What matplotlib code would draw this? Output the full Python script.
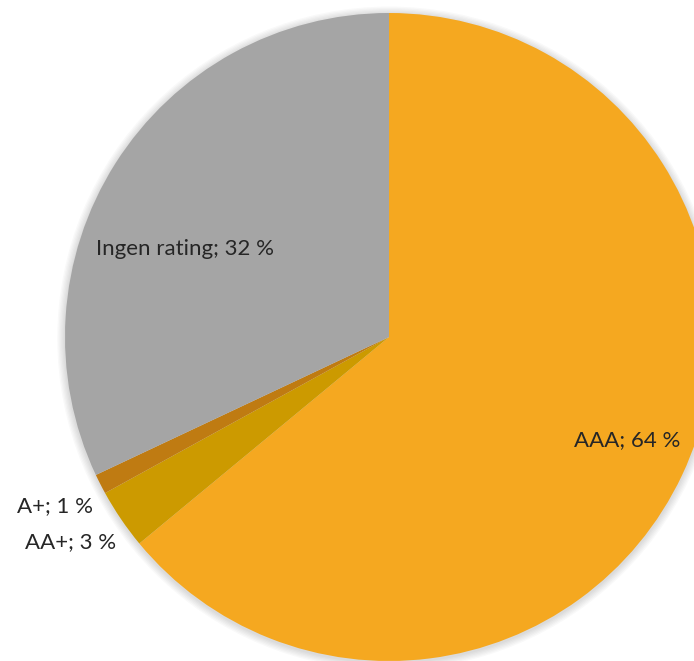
import matplotlib.pyplot as plt
from matplotlib.patches import Circle

# rating split of the portfolio
ratings = ['AAA', 'AA+', 'A+', 'Ingen rating']
shares = [64, 3, 1, 32]
colors = ['#F5A820', '#CC9A00', '#BF7B12', '#A5A5A5']

# label anchors (data units, pie radius = 1)
label_pos = [(0.735, -0.318), (-0.842, -0.633), (-0.915, -0.522), (-0.63, 0.272)]
label_ha = ['center', 'right', 'right', 'center']

W, H = 694, 661
cx, cy, r = 389, 337, 324

fig = plt.figure(figsize=(W / 100, H / 100), dpi=100)
ax = fig.add_axes([0, 0, 1, 1])

# soft shadow around the rim
for k in range(6):
    ax.add_patch(Circle((0, -0.004), 1 + 0.004 * (6 - k), color='#000000',
                        alpha=0.025, lw=0, zorder=0))

wedges, _ = ax.pie(shares, colors=colors, startangle=90, counterclock=False,
                   radius=1, wedgeprops=dict(linewidth=0))
for w in wedges:
    w.set_zorder(2)

for lab, v, (x, y), ha in zip(ratings, shares, label_pos, label_ha):
    ax.text(x, y, f'{lab}; {v} %', ha=ha, va='center', fontsize=16,
            family=['Lato', 'DejaVu Sans'], color='#262626', zorder=5)

ax.set_xlim(-cx / r, (W - cx) / r)
ax.set_ylim(-(H - cy) / r, cy / r)
ax.set_aspect('auto')
ax.axis('off')

fig.savefig('out.png', dpi=100)
